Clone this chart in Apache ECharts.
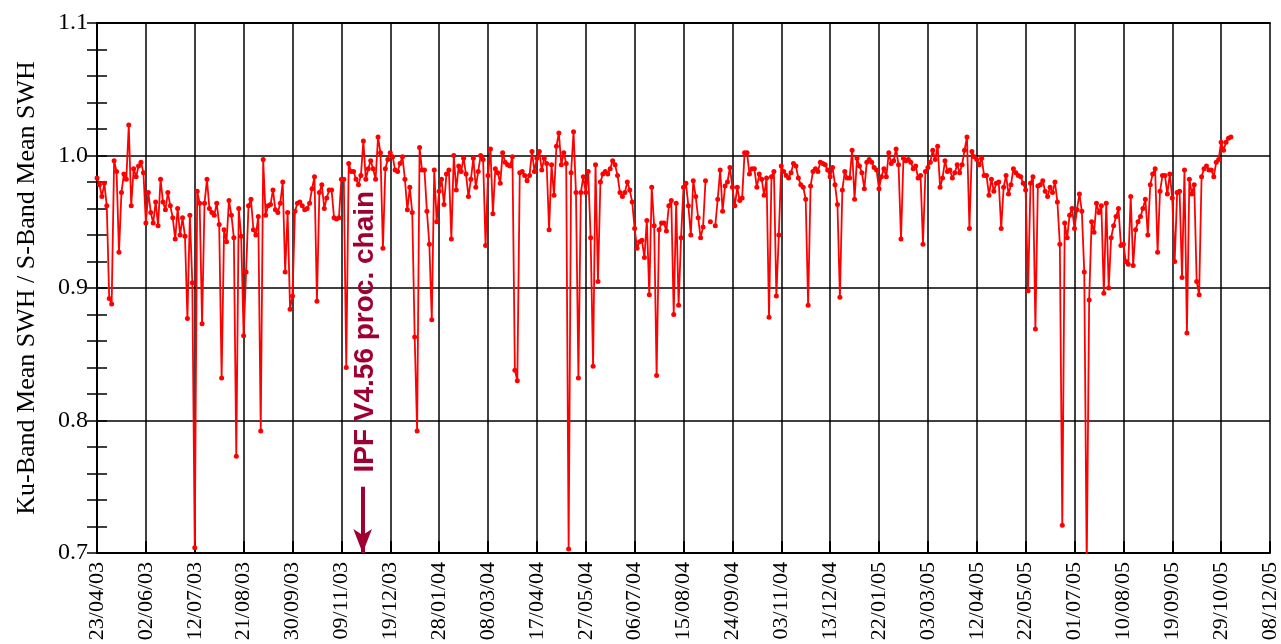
<!DOCTYPE html>
<html>
<head>
<meta charset="utf-8">
<script src="https://cdn.jsdelivr.net/npm/echarts@6/dist/echarts.min.js"></script>
<style>
  html, body { margin: 0; padding: 0; background: #fff; }
  #chart { width: 1281px; height: 644px; }
</style>
</head>
<body>
<div id="chart"></div>
<script>
// first sample is 23/04/03, one sample every 2 days
var startDate = Date.UTC(2003, 3, 23);
var stepDays = 2;
var tickDays = 40;
var axisDays = 960;
var yTicks = [0.7, 0.8, 0.9, 1.0, 1.1];

// Ku-band / S-band mean SWH ratio (null = no data)
var ratios = [
  0.983, 0.978, 0.969, 0.979, 0.962, 0.892, 0.888, 0.996, 0.988, 0.927,
  0.972, 0.986, 0.982, 1.023, 0.962, 0.990, 0.984, 0.992, 0.995, 0.987,
  0.949, 0.972, 0.957, 0.949, 0.965, 0.947, 0.982, 0.965, 0.959, 0.972,
  0.962, 0.953, 0.937, 0.960, 0.940, 0.953, 0.939, 0.877, 0.955, 0.904,
  0.704, 0.973, 0.964, 0.873, 0.964, 0.982, 0.960, 0.957, 0.955, 0.964,
  0.948, 0.832, 0.944, 0.935, 0.966, 0.955, 0.938, 0.773, 0.960, 0.939,
  0.864, 0.912, 0.962, 0.967, 0.944, 0.940, 0.954, 0.792, 0.997, 0.955,
  0.962, 0.963, 0.974, 0.959, 0.957, 0.964, 0.980, 0.912, 0.957, 0.884,
  0.894, 0.958, 0.964, 0.965, 0.962, 0.959, 0.960, 0.964, 0.975, 0.984,
  0.890, 0.972, 0.978, 0.960, 0.968, 0.974, 0.974, 0.953, 0.952, 0.953,
  0.982, 0.982, 0.840, 0.994, 0.988, 0.988, 0.982, 0.978, 0.985, 1.011,
  0.982, 0.990, 0.996, 0.990, 0.982, 1.014, 1.002, 0.930, 0.990, 0.997,
  1.002, 0.999, 0.989, 0.988, 0.994, 0.999, 0.982, 0.959, 0.976, 0.957,
  0.863, 0.792, 1.006, 0.989, 0.989, 0.958, 0.933, 0.876, 0.989, 0.950,
  0.973, 0.982, 0.963, 0.986, 0.989, 0.937, 1.000, 0.974, 0.992, 0.988,
  0.998, 0.986, 0.969, 0.982, 0.998, 0.976, 0.988, 1.000, 0.997, 0.932,
  0.985, 1.005, 0.956, 0.990, 0.987, 0.979, 1.002, 0.995, 0.993, 0.992,
  0.999, 0.838, 0.830, 0.987, 0.988, 0.985, 0.981, 0.985, 1.003, 0.988,
  0.998, 1.003, 0.989, 0.998, 0.994, 0.944, 0.993, 0.970, 1.007, 1.017,
  0.993, 1.002, 0.994, 0.703, 0.987, 1.018, 0.972, 0.832, 0.972, 0.984,
  0.972, 0.988, 0.938, 0.841, 0.993, 0.905, 0.980, 0.986, 0.988, 0.986,
  0.990, 0.996, 0.993, 0.985, 0.972, 0.969, 0.972, 0.980, 0.974, 0.965,
  0.945, 0.930, 0.935, 0.936, 0.923, 0.951, 0.895, 0.976, 0.947, 0.834,
  0.944, 0.949, 0.949, 0.943, 0.962, 0.966, 0.880, 0.964, 0.887, 0.938,
  0.976, 0.979, 0.962, 0.940, 0.981, 0.969, 0.953, 0.938, 0.946, 0.981,
  null, 0.950, null, 0.947, 0.967, 0.989, 0.958, 0.977, 0.980, 0.991,
  0.976, 0.962, 0.976, 0.966, 0.968, 1.002, 1.002, 0.986, 0.990, 0.990,
  0.976, 0.986, 0.982, 0.970, 0.983, 0.878, 0.984, 0.988, 0.894, 0.940,
  0.992, 0.988, 0.985, 0.983, 0.987, 0.994, 0.992, 0.983, 0.978, 0.976,
  0.967, 0.887, 0.977, 0.988, 0.990, 0.988, 0.995, 0.994, 0.993, 0.989,
  0.984, 0.991, 0.978, 0.963, 0.893, 0.974, 0.988, 0.983, 0.983, 1.004,
  0.967, 0.998, 0.992, 0.987, 0.975, 0.995, 0.997, 0.995, 0.991, 0.989,
  0.975, 0.984, 0.990, 0.984, 1.002, 0.994, 0.996, 1.005, 0.993, 0.937,
  0.998, 0.996, 0.997, 0.995, 0.990, 0.992, 0.983, 0.985, 0.933, 0.988,
  0.991, 0.995, 1.004, 0.997, 1.007, 0.976, 0.983, 0.996, 0.988, 0.989,
  0.983, 0.987, 0.993, 0.987, 0.993, 1.004, 1.014, 0.945, 1.003, 0.999,
  0.997, 0.993, 0.998, 0.985, 0.985, 0.970, 0.982, 0.973, 0.979, 0.980,
  0.945, 0.976, 0.985, 0.971, 0.978, 0.990, 0.987, 0.985, 0.984, 0.979,
  0.974, 0.898, 0.979, 0.984, 0.869, 0.977, 0.978, 0.981, 0.973, 0.969,
  0.976, 0.972, 0.980, 0.965, 0.933, 0.721, 0.949, 0.938, 0.955, 0.960,
  0.945, 0.959, 0.971, 0.958, 0.912, 0.690, 0.891, 0.950, 0.942, 0.964,
  0.957, 0.962, 0.896, 0.964, 0.900, 0.938, 0.947, 0.954, 0.960, 0.932,
  0.933, 0.920, 0.918, 0.969, 0.917, 0.944, 0.950, 0.954, 0.960, 0.967,
  0.940, 0.978, 0.986, 0.990, 0.927, 0.973, 0.985, 0.985, 0.971, 0.986,
  0.968, 0.920, 0.972, 0.973, 0.908, 0.989, 0.866, 0.982, 0.971, 0.978,
  0.905, 0.895, 0.984, 0.990, 0.992, 0.989, 0.989, 0.984, 0.995, 0.997,
  1.010, 1.004, 1.010, 1.013, 1.014
];

// processing chain change marker
var annotText = 'IPF V4.56 proc. chain';
var annotDay = 217.4;

var red = '#ff0000';
var wine = '#9e0032';
var serif = '"Liberation Serif", "Times New Roman", serif';

function dayLabel(d) {
  var t = new Date(startDate + d * 86400000);
  var dd = ('0' + t.getUTCDate()).slice(-2);
  var mm = ('0' + (t.getUTCMonth() + 1)).slice(-2);
  var yy = ('0' + (t.getUTCFullYear() % 100)).slice(-2);
  return dd + '/' + mm + '/' + yy;
}

var points = ratios.map(function (v, i) { return [i * stepDays, v]; });

var chart = echarts.init(document.getElementById('chart'));

var frameAxis = {
  show: true,
  lineStyle: { color: '#000', width: 2 }
};

chart.setOption({
  animation: false,
  grid: { left: 97, right: 8, top: 23, bottom: 91 },
  xAxis: [{
    type: 'value',
    min: 0,
    max: axisDays,
    interval: tickDays,
    axisLine: frameAxis,
    axisTick: { show: true, inside: true, length: 12, lineStyle: { color: '#000', width: 2 } },
    axisLabel: {
      rotate: 90,
      margin: 9,
      color: '#000',
      fontFamily: serif,
      fontSize: 22,
      formatter: dayLabel
    },
    splitLine: { show: true, lineStyle: { color: '#000', width: 1.5 } }
  }, {
    type: 'value',
    position: 'top',
    min: 0,
    max: axisDays,
    interval: tickDays,
    axisLine: frameAxis,
    axisTick: { show: false },
    axisLabel: { show: false },
    splitLine: { show: false }
  }],
  yAxis: [{
    type: 'value',
    min: yTicks[0],
    max: yTicks[yTicks.length - 1],
    interval: 0.1,
    name: 'Ku-Band Mean SWH / S-Band Mean SWH',
    nameLocation: 'middle',
    nameGap: 57,
    nameTextStyle: { color: '#000', fontFamily: serif, fontSize: 26 },
    axisLine: frameAxis,
    axisTick: { show: true, inside: true, length: 10, lineStyle: { color: '#000', width: 1.5 } },
    minorTick: { show: true, splitNumber: 5, length: 10, lineStyle: { color: '#000', width: 1.5 } },
    axisLabel: {
      margin: 9,
      color: '#000',
      fontFamily: serif,
      fontSize: 24,
      formatter: function (v) { return v.toFixed(1); }
    },
    splitLine: { show: true, lineStyle: { color: '#000', width: 1.5 } }
  }, {
    type: 'value',
    position: 'right',
    min: yTicks[0],
    max: yTicks[yTicks.length - 1],
    interval: 0.1,
    axisLine: frameAxis,
    axisTick: { show: true, inside: true, length: 10, lineStyle: { color: '#000', width: 1.5 } },
    minorTick: { show: true, splitNumber: 5, length: 10, lineStyle: { color: '#000', width: 1.5 } },
    axisLabel: { show: false },
    splitLine: { show: false }
  }],
  series: [{
    type: 'line',
    data: points,
    xAxisIndex: 0,
    yAxisIndex: 0,
    connectNulls: false,
    clip: true,
    showAllSymbol: true,
    symbol: 'circle',
    symbolSize: 5,
    itemStyle: { color: red },
    lineStyle: { color: red, width: 1.8 },
    markLine: {
      silent: true,
      symbol: ['none', 'arrow'],
      symbolSize: [14, 24],
      label: { show: false },
      lineStyle: { color: wine, width: 4, type: 'solid' },
      data: [[{ coord: [annotDay, 0.75] }, { coord: [annotDay, 0.7] }]]
    }
  }]
});

var textPos = chart.convertToPixel({ gridIndex: 0 }, [annotDay + 2.2, 0.867]);
chart.setOption({
  graphic: [{
    type: 'text',
    x: textPos[0],
    y: textPos[1],
    rotation: Math.PI / 2,
    style: {
      text: annotText,
      fill: wine,
      font: 'bold 28px "Liberation Sans", Arial, sans-serif',
      textAlign: 'center',
      textVerticalAlign: 'middle'
    }
  }]
});
</script>
</body>
</html>
